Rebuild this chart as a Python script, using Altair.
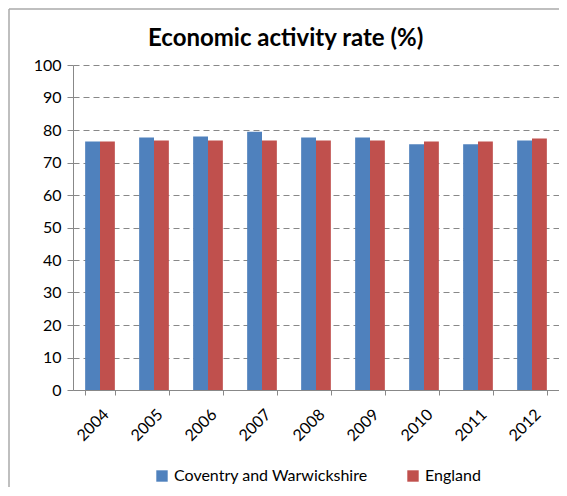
import altair as alt
import pandas as pd

years = ["2004", "2005", "2006", "2007", "2008", "2009", "2010", "2011", "2012"]
coventry = [76.5, 77.7, 78.0, 79.5, 77.7, 77.7, 75.6, 75.6, 76.8]
england = [76.5, 76.8, 76.8, 76.8, 76.8, 76.8, 76.5, 76.5, 77.4]
series = ["Coventry and Warwickshire", "England"]
colors = ["#4F81BD", "#C0504D"]

rows = []
for i, y in enumerate(years):
    rows.append({"year": y, "series": series[0], "value": coventry[i]})
    rows.append({"year": y, "series": series[1], "value": england[i]})
df = pd.DataFrame(rows)

FONT = "Lato"

bars = alt.Chart(df).mark_bar().encode(
    x=alt.X("year:N", sort=years, title=None,
            scale=alt.Scale(paddingInner=0.45, paddingOuter=0.225),
            axis=alt.Axis(labelAngle=-45, labelFontSize=16, labelFont=FONT,
                          labelColor="#000", domainColor="#888", tickColor="#888",
                          tickSize=5, tickBand="extent", labelPadding=11, grid=False)),
    xOffset=alt.XOffset("series:N", sort=series),
    y=alt.Y("value:Q", title=None,
            scale=alt.Scale(domain=[0, 100], nice=False),
            axis=alt.Axis(values=list(range(0, 101, 10)), labelFontSize=16, labelFont=FONT,
                          labelColor="#000", domainColor="#888", tickColor="#888",
                          tickSize=6, labelPadding=6, gridColor="#888", gridDash=[6, 4],
                          gridWidth=1.2)),
    color=alt.Color("series:N", sort=series,
                    scale=alt.Scale(domain=series, range=colors),
                    legend=alt.Legend(title=None, orient="none", legendX=81, legendY=403,
                                      direction="horizontal", symbolType="square",
                                      symbolSize=130, labelFontSize=16, labelFont=FONT,
                                      labelColor="#000", columnPadding=37, labelLimit=0,
                                      symbolStrokeWidth=0)),
)

one = pd.DataFrame({"a": [0]})
border_left = alt.Chart(one).mark_rule(color="#aaa", strokeWidth=1.5, clip=False).encode(
    x=alt.value(-64), y=alt.value(-56), y2=alt.value(480))
border_top = alt.Chart(one).mark_rule(color="#aaa", strokeWidth=1.5, clip=False).encode(
    x=alt.value(-64), x2=alt.value(500), y=alt.value(-56))

chart = alt.layer(border_left, border_top, bars).properties(
    width=486, height=325,
    title=alt.TitleParams("Economic activity rate (%)", font=FONT, fontSize=24,
                          fontWeight="bold", color="#000", offset=-43, anchor="start",
                          frame="group", dx=75),
    autosize=alt.AutoSizeParams(type="none"),
    padding={"left": 65, "top": 57, "right": 0, "bottom": 97},
).configure_view(stroke=None)

chart.save("out.html", embed_options={"renderer": "svg", "actions": False})
